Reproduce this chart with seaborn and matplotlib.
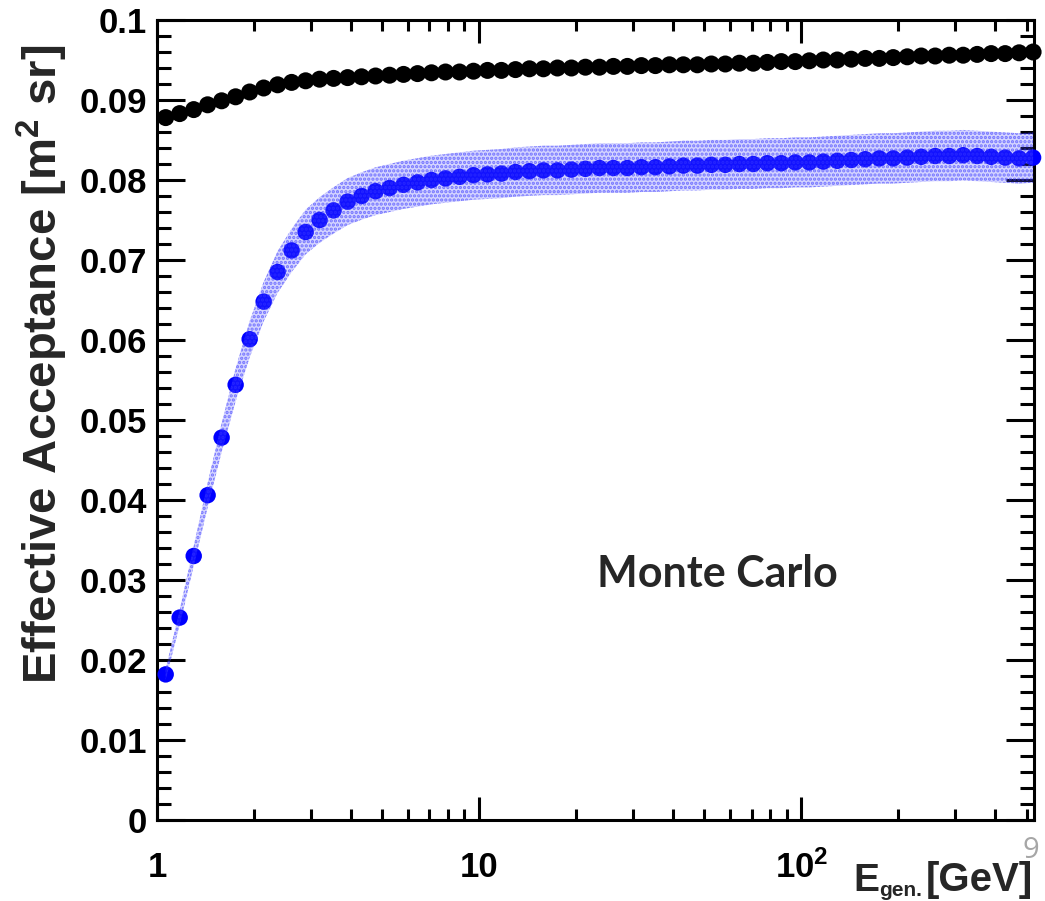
import numpy as np
import pandas as pd
import matplotlib
matplotlib.use("Agg")
import matplotlib.pyplot as plt
import seaborn as sns
from matplotlib.ticker import LogLocator, MultipleLocator, NullFormatter

# ---------------- data ----------------
energy_gev = [
    1.064, 1.176, 1.300, 1.436, 1.587, 1.754, 1.939, 2.143, 2.368, 2.617,
    2.893, 3.196, 3.532, 3.904, 4.314, 4.768, 5.269, 5.823, 6.436, 7.112,
    7.860, 8.687, 9.600, 10.61, 11.72, 12.96, 14.32, 15.82, 17.49, 19.33,
    21.36, 23.61, 26.09, 28.83, 31.87, 35.22, 38.92, 43.01, 47.53, 52.53,
    58.05, 64.16, 70.90, 78.36, 86.60, 95.70, 105.8, 116.9, 129.2, 142.8,
    157.8, 174.4, 192.7, 213.0, 235.4, 260.1, 287.5, 317.7, 351.1, 388.0,
    428.8, 473.9, 523.6,
]

acceptance_black = [
    0.0878, 0.0883, 0.0888, 0.0894, 0.0899, 0.0904, 0.0910, 0.0915, 0.0919, 0.0922,
    0.0924, 0.0926, 0.0927, 0.0928, 0.0929, 0.0930, 0.0931, 0.0932, 0.0933, 0.0934,
    0.0935, 0.0935, 0.0936, 0.0937, 0.0937, 0.0938, 0.0939, 0.0939, 0.0940, 0.0940,
    0.0941, 0.0941, 0.0942, 0.0942, 0.0943, 0.0943, 0.0944, 0.0944, 0.0944, 0.0945,
    0.0945, 0.0946, 0.0946, 0.0947, 0.0948, 0.0948, 0.0949, 0.0950, 0.0950, 0.0951,
    0.0952, 0.0952, 0.0953, 0.0954, 0.0955, 0.0955, 0.0956, 0.0956, 0.0957, 0.0958,
    0.0958, 0.0959, 0.0960,
]

acceptance_blue = [
    0.0182, 0.0253, 0.0330, 0.0406, 0.0478, 0.0544, 0.0601, 0.0648, 0.0685, 0.0712,
    0.0735, 0.0750, 0.0762, 0.0773, 0.0780, 0.0786, 0.0790, 0.0794, 0.0797, 0.0800,
    0.0802, 0.0804, 0.0806, 0.0807, 0.0808, 0.0810, 0.0811, 0.0812, 0.0812, 0.0813,
    0.0814, 0.0815, 0.0815, 0.0815, 0.0816, 0.0816, 0.0817, 0.0818, 0.0818, 0.0819,
    0.0819, 0.0820, 0.0820, 0.0821, 0.0821, 0.0822, 0.0822, 0.0823, 0.0824, 0.0825,
    0.0826, 0.0827, 0.0827, 0.0828, 0.0829, 0.0830, 0.0830, 0.0831, 0.0830, 0.0829,
    0.0828, 0.0827, 0.0828,
]

blue_relative_uncertainty = 0.038

x_ticks = [1, 10, 100]
x_tick_labels = ["1", "10", r"$\mathbf{10^{2}}$"]
y_ticks = [0.0, 0.01, 0.02, 0.03, 0.04, 0.05, 0.06, 0.07, 0.08, 0.09, 0.1]
y_tick_labels = ["0", "0.01", "0.02", "0.03", "0.04", "0.05", "0.06",
                 "0.07", "0.08", "0.09", "0.1"]

x_label_main = "E"
x_label_sub = "gen."
x_label_unit = "[GeV]"
y_label = r"Effective Acceptance [m$^{\mathbf{2}}$ sr]"
annotation = "Monte Carlo"
page_number = "9"

# ---------------- style ----------------
sns.set_theme(style="ticks")
plt.rcParams["font.family"] = ["Liberation Sans", "DejaVu Sans"]
plt.rcParams["font.weight"] = "bold"
plt.rcParams["mathtext.fontset"] = "custom"
plt.rcParams["mathtext.rm"] = "Liberation Sans:bold"
plt.rcParams["mathtext.bf"] = "Liberation Sans:bold"
plt.rcParams["mathtext.it"] = "Liberation Sans:bold"
plt.rcParams["mathtext.sf"] = "Liberation Sans:bold"
plt.rcParams["hatch.linewidth"] = 1.6

W, H = 1045, 901
fig = plt.figure(figsize=(W / 100, H / 100), dpi=100)
ax = fig.add_axes([157 / W, 81 / H, 877 / W, 800 / H])

df = pd.DataFrame({
    "energy": energy_gev,
    "black": acceptance_black,
    "blue": acceptance_blue,
})

sns.scatterplot(data=df, x="energy", y="black", ax=ax, color="black",
                s=150, edgecolor="none", linewidth=0, zorder=3, clip_on=False)
sns.scatterplot(data=df, x="energy", y="blue", ax=ax, color="#0000ff",
                s=140, edgecolor="none", linewidth=0, zorder=3, clip_on=False)

lo = df["blue"] * (1 - blue_relative_uncertainty)
hi = df["blue"] * (1 + blue_relative_uncertainty)
ax.fill_between(df["energy"], lo, hi, facecolor=(0.3, 0.3, 1.0, 0.24),
                edgecolor=(0.2, 0.2, 1.0, 0.6), hatch="....",
                linewidth=0, zorder=4)

ax.set_xscale("log")
ax.set_xlim(1, 527)
ax.set_ylim(0, 0.1)

ax.set_xticks(x_ticks, labels=x_tick_labels)
ax.xaxis.set_minor_locator(LogLocator(base=10, subs=np.arange(2, 10)))
ax.xaxis.set_minor_formatter(NullFormatter())
ax.set_yticks(y_ticks, labels=y_tick_labels)
ax.yaxis.set_minor_locator(MultipleLocator(0.002))

ax.tick_params(axis="both", which="both", direction="in", top=True,
               right=True, width=2.2, color="black", labelcolor="black")
ax.tick_params(axis="y", which="major", length=20, labelsize=25, pad=7)
ax.tick_params(axis="y", which="minor", length=10)
ax.tick_params(axis="x", which="major", length=16.5, labelsize=25, pad=22)
ax.tick_params(axis="x", which="minor", length=8)
for lab in ax.get_xticklabels() + ax.get_yticklabels():
    lab.set_fontweight("bold")

for sp in ax.spines.values():
    sp.set_linewidth(2.2)
    sp.set_color("black")

ax.set_xlabel("")
ax.set_ylabel(y_label, fontsize=34, fontweight="bold")
ax.yaxis.set_label_coords(-0.099, 0.569)

# x-axis title, built from pieces so the subscript can be small (ROOT style)
fig.text(879 / W, 1 - 891 / H, x_label_main, ha="right", va="baseline",
         fontsize=28, fontweight="bold")
fig.text(879 / W, 1 - 896 / H, x_label_sub, ha="left", va="baseline",
         fontsize=15, fontweight="bold")
fig.text(1033 / W, 1 - 891 / H, x_label_unit, ha="right", va="baseline",
         fontsize=29, fontweight="bold")

ax.text(0.502, 0.291, annotation, transform=ax.transAxes, ha="left",
        va="baseline", fontsize=31, fontweight="bold", family="Lato")

fig.text(1031 / W, 1 - 858 / H, page_number, ha="center", va="baseline",
         fontsize=21, color="#a6a6a6", family="Open Sans",
         fontweight="normal", fontstyle="normal", zorder=0)

fig.savefig("out.png", dpi=100)
